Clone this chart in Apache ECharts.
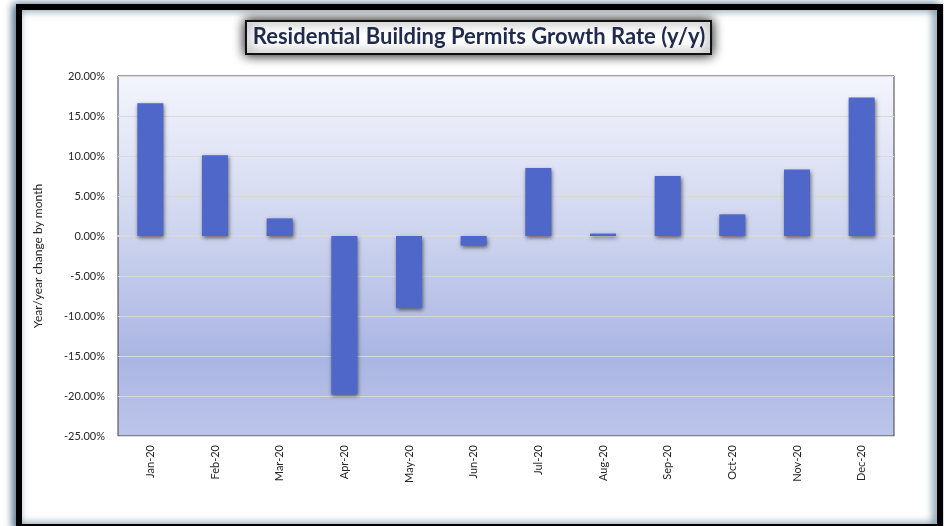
<!DOCTYPE html>
<html>
<head>
<meta charset="utf-8">
<style>
  html, body { margin: 0; padding: 0; background: #fff; }
  #main { width: 944px; height: 526px; }
</style>
<script src="https://cdn.jsdelivr.net/npm/echarts@6/dist/echarts.min.js"></script>
</head>
<body>
<div id="main"></div>
<script>
// monthly y/y change, percent
var months = ['Jan-20', 'Feb-20', 'Mar-20', 'Apr-20', 'May-20', 'Jun-20',
              'Jul-20', 'Aug-20', 'Sep-20', 'Oct-20', 'Nov-20', 'Dec-20'];
var growth = [16.6, 10.1, 2.2, -19.8, -9.0, -1.2, 8.5, 0.3, 7.5, 2.7, 8.3, 17.3];
var titleText = 'Residential Building Permits Growth Rate (y/y)';
var yName = 'Year/year change by month';

var chart = echarts.init(document.getElementById('main'));

var option = {
    backgroundColor: '#fff',
    animation: false,
    graphic: [
        // outer frame
        {
            type: 'rect', z: -10,
            shape: { x: 19, y: 7, width: 921, height: 520 },
            style: {
                fill: '#fff', stroke: '#000', lineWidth: 6,
                shadowBlur: 8, shadowColor: 'rgba(40,80,110,0.8)', shadowOffsetX: -3
            }
        },
        // title box
        {
            type: 'rect', z: 10,
            shape: { x: 246, y: 21, width: 465, height: 33 },
            style: {
                fill: '#fff', stroke: '#111', lineWidth: 2,
                shadowBlur: 12, shadowColor: 'rgba(0,0,0,1)'
            }
        },
        {
            type: 'text', z: 11,
            x: 479, y: 37,
            style: {
                text: titleText,
                fill: '#1f2a4c',
                font: 'bold 22px Lato',
                align: 'center', verticalAlign: 'middle'
            }
        }
    ],
    grid: {
        left: 118, right: 50, top: 76, bottom: 90,
        show: true,
        borderColor: '#404040', borderWidth: 1,
        backgroundColor: new echarts.graphic.LinearGradient(0, 0, 0, 1, [
            { offset: 0, color: '#f4f5fc' },
            { offset: 0.45, color: '#ccd3ee' },
            { offset: 0.78, color: '#aab5e3' },
            { offset: 1, color: '#bcc5e9' }
        ])
    },
    xAxis: {
        type: 'category',
        data: months,
        axisLine: { onZero: true, lineStyle: { color: '#d9d9d9', width: 2 } },
        axisTick: { show: false },
        axisLabel: {
            rotate: 90, margin: 9,
            fontFamily: 'Lato', fontSize: 11, color: '#262626'
        }
    },
    yAxis: {
        type: 'value',
        min: -25, max: 20, interval: 5,
        name: yName,
        nameLocation: 'middle',
        nameRotate: 90,
        nameGap: 74,
        nameTextStyle: { fontFamily: 'Lato', fontSize: 12, color: '#262626' },
        axisLine: { show: false },
        axisTick: { show: false },
        axisLabel: {
            margin: 13,
            fontFamily: 'Lato', fontSize: 11, color: '#262626',
            formatter: function (v) { return v.toFixed(2) + '%'; }
        },
        splitLine: { lineStyle: { color: '#d9d9d9', width: 1 } }
    },
    series: [{
        type: 'bar',
        data: growth,
        barWidth: 26,
        itemStyle: {
            color: '#4f67c8',
            shadowBlur: 4, shadowColor: 'rgba(0,0,0,0.55)',
            shadowOffsetX: 1, shadowOffsetY: 2
        }
    }]
};

chart.setOption(option);
</script>
</body>
</html>
